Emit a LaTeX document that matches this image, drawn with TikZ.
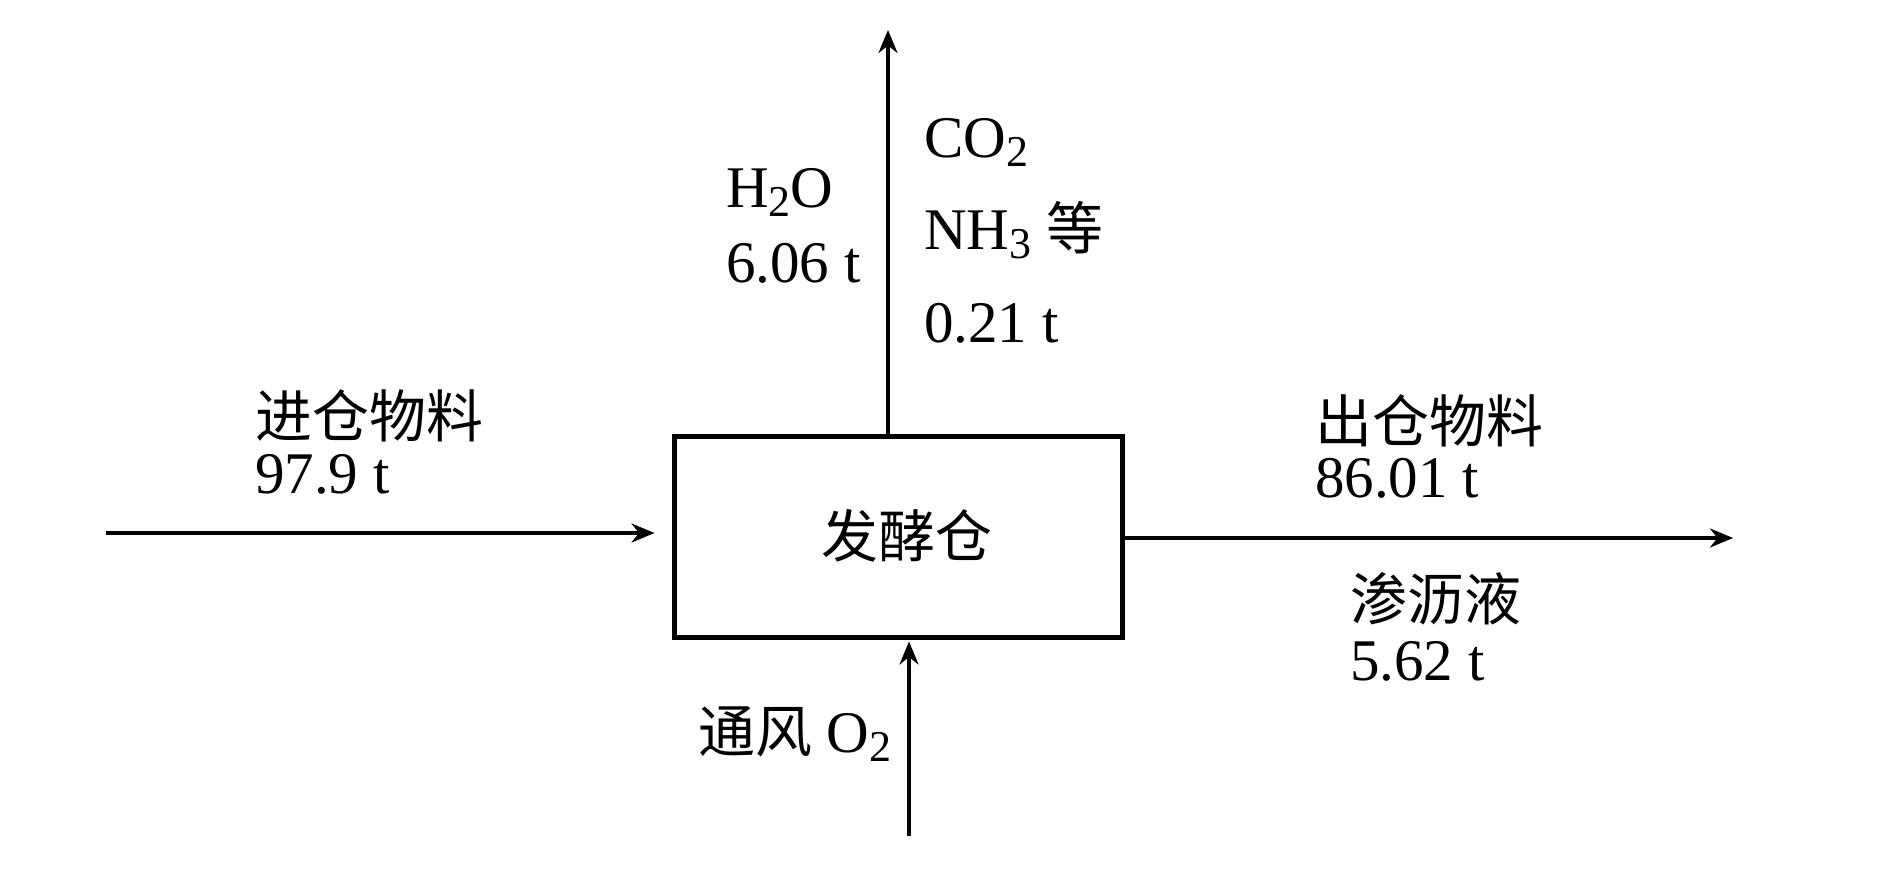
\documentclass[tikz,border=0pt]{standalone}
\usepackage{fontspec}
\setmainfont{Liberation Serif}
\newfontfamily\cjk[Scale=0.965]{Noto Sans CJK SC}
\usetikzlibrary{arrows.meta}
\newcommand{\subx}[1]{\raisebox{-9pt}{\fontsize{44}{46}\selectfont #1}}
\tikzset{
  arr/.style={line width=3.5pt,-{Stealth[length=23pt,width=19pt]}},
  lbl/.style={inner sep=0pt,anchor=base west,font=\fontsize{59}{62}\selectfont},
  bin/.style={draw,line width=5pt,minimum width=448pt,minimum height=201pt,inner sep=0pt,font=\fontsize{59}{62}\selectfont}
}
\begin{document}
\begin{tikzpicture}[x=1pt,y=-1pt]
\useasboundingbox (0,0) rectangle (1887,877);
\node[bin] (box) at (898,536.5) {\raisebox{7pt}{\cjk\hspace{18pt}发酵仓}};
% labels
\node[lbl] (inname) at (255,437) {\cjk 进仓物料};
\node[lbl] (inval) at (255,493) {97.9 t};
\node[lbl] (outname) at (1315,442) {\cjk 出仓物料};
\node[lbl] (outval) at (1315,497) {86.01 t};
\node[lbl] (leachname) at (1350,620) {\cjk 渗沥液};
\node[lbl] (leachval) at (1350,680) {5.62 t};
\node[lbl] (air) at (698,752) {{\cjk 通风} O\subx{2}};
\node[lbl] (water) at (726,208) {H\subx{2}O};
\node[lbl] (waterval) at (726,283) {6.06 t};
\node[lbl] (gas1) at (924,158) {CO\subx{2}};
\node[lbl] (gas2) at (924,250) {NH\subx{3} {\cjk 等}};
\node[lbl] (gasval) at (924,342) {0.21 t};
% connector ends
\coordinate (inL) at (106,533);
\coordinate (outR) at (1733,538);
\coordinate (topT) at (888,30);
\coordinate (botB) at (909,836);
% connectors
\draw[arr,shorten >=17pt] (inL) -- (inL -| box.west);
\draw[arr] (outR -| box.east) -- (outR);
\draw[arr] (topT |- box.north) -- (topT);
\draw[arr,shorten >=2pt] (botB) -- (botB |- box.south);
\end{tikzpicture}
\end{document}
